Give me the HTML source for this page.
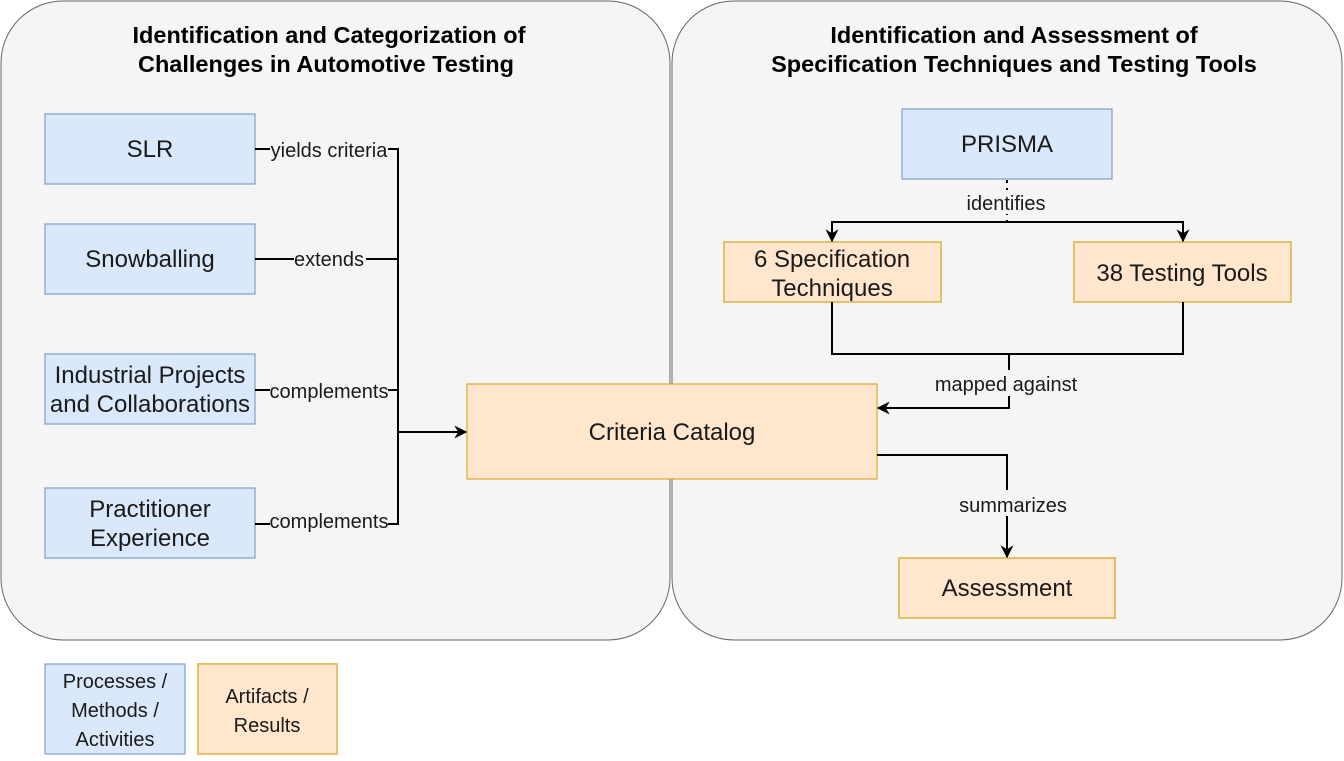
<!DOCTYPE html>
<html><head><meta charset="utf-8"><style>
body{margin:0;background:#fff}
svg text{font-family:"Liberation Sans",Arial,sans-serif;fill:#1a1a1a}
</style></head><body>
<svg width="1344" height="756" viewBox="0 0 1344 756" xmlns="http://www.w3.org/2000/svg">
<defs><marker id="a" viewBox="0 0 10 10" refX="9" refY="5" markerWidth="13" markerHeight="13" orient="auto" markerUnits="userSpaceOnUse"><path d="M0,0 L10,5 L0,10 L3,5 z" fill="#000"/></marker></defs>
<rect x="1" y="1" width="669" height="639" rx="62" fill="#f5f5f5" stroke="#666"/>
<rect x="672" y="1" width="670" height="639" rx="62" fill="#f5f5f5" stroke="#666"/>
<g font-weight="bold" font-size="23.5" text-anchor="middle" style="fill:#000">
<text x="329" y="43" style="fill:#000">Identification and Categorization of</text>
<text x="326" y="72" style="fill:#000">Challenges in Automotive Testing</text>
<text x="1014" y="43" style="fill:#000">Identification and Assessment of</text>
<text x="1014" y="72" style="fill:#000">Specification Techniques and Testing Tools</text>
</g>
<g fill="#dae8fc" stroke="#6c8ebf">
<rect x="45" y="114" width="210" height="70"/><rect x="45" y="224" width="210" height="70"/>
<rect x="45" y="354" width="210" height="70"/><rect x="45" y="488" width="210" height="70"/>
<rect x="902" y="109" width="210" height="70"/><rect x="45" y="664" width="140" height="90"/>
</g>
<g fill="#ffe6cc" stroke="#d79b00"><rect x="467" y="384" width="410" height="95"/></g>
<g fill="#ffe6cc" stroke="#e6c068" stroke-width="2">
<rect x="724" y="242" width="217" height="60"/><rect x="1074" y="242" width="217" height="60"/>
<rect x="899" y="558" width="216" height="60"/><rect x="198" y="664" width="139" height="90"/>
</g>
<g fill="none" stroke="#000" stroke-width="2">
<path d="M255 149H398V524H255"/><path d="M255 259H398"/><path d="M255 390H398"/>
<path d="M398 432H466" marker-end="url(#a)"/>
<path d="M1007 180V222" stroke-dasharray="3 5"/>
<path d="M832 240V222H1183V240" />
<path d="M832 222V241" marker-end="url(#a)"/><path d="M1183 222V241" marker-end="url(#a)"/>
<path d="M832 302V354H1183V302"/><path d="M1009 354V408H878" marker-end="url(#a)"/>
<path d="M877 455H1007V557" marker-end="url(#a)"/>
</g>
<g font-size="20" text-anchor="middle">
<rect x="270" y="138" width="118" height="22" fill="#f5f5f5"/><text x="329" y="157">yields criteria</text>
<rect x="294" y="248" width="72" height="22" fill="#f5f5f5"/><text x="329" y="266">extends</text>
<rect x="270" y="379" width="118" height="22" fill="#f5f5f5"/><text x="329" y="398">complements</text>
<rect x="270" y="510" width="118" height="22" fill="#f5f5f5"/><text x="329" y="528">complements</text>
<rect x="958" y="190" width="96" height="24" fill="#f5f5f5"/><text x="1006" y="210">identifies</text>
<rect x="932" y="370" width="148" height="26" fill="#f5f5f5"/><text x="1006" y="391">mapped against</text>
<rect x="955" y="490" width="118" height="26" fill="#f5f5f5"/><text x="1013" y="512">summarizes</text>
</g>
<g font-size="24" text-anchor="middle">
<text x="150" y="157">SLR</text><text x="150" y="267">Snowballing</text>
<text x="150" y="383">Industrial Projects</text><text x="150" y="412">and Collaborations</text>
<text x="150" y="517">Practitioner</text><text x="150" y="546">Experience</text>
<text x="672" y="440">Criteria Catalog</text><text x="1007" y="152">PRISMA</text>
<text x="832" y="267">6 Specification</text><text x="832" y="296">Techniques</text>
<text x="1182" y="281">38 Testing Tools</text><text x="1007" y="596">Assessment</text>
</g>
<g font-size="20" text-anchor="middle">
<text x="115" y="688">Processes /</text><text x="115" y="717">Methods /</text><text x="115" y="746">Activities</text>
<text x="267" y="703">Artifacts /</text><text x="267" y="732">Results</text>
</g>
</svg>
</body></html>
